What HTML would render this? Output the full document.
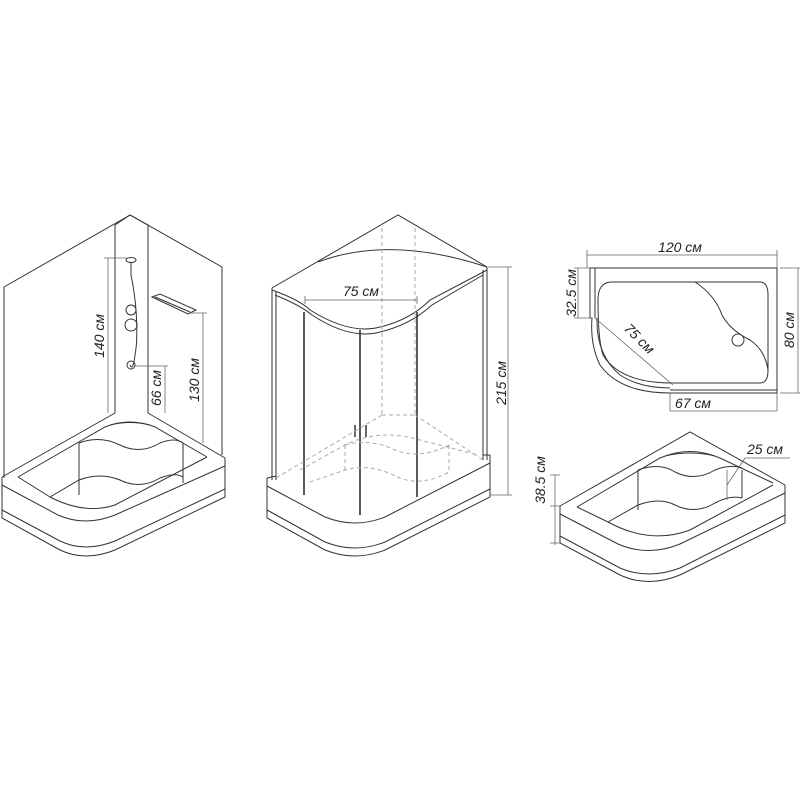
<!DOCTYPE html>
<html><head><meta charset="utf-8"><style>
html,body{margin:0;padding:0;background:#fff;}
svg{display:block}
text{font-family:"Liberation Sans",sans-serif;font-style:italic;font-size:14px;fill:#222;}
</style></head><body>
<svg width="800" height="800" viewBox="0 0 800 800" xmlns="http://www.w3.org/2000/svg">
<g fill="none" stroke="#333" stroke-width="1">
<!-- LEFT FIGURE -->
<path d="M4,478 V287 L130,215 L222,267 V455"/>
<path d="M115,413 V225 L130,215 L148,225 V413"/>
<path d="M2,477 L115,413 M148,413 L225,458"/>
<path d="M2,477 V518 L60,550 Q85,562 115,550 L225,497 V458"/>
<path d="M2,485 L58,515 Q85,527 115,515 L225,466"/>
<path d="M2,510 L60,541 Q85,553 115,541 L225,489"/>
<path d="M18,477 L105,427 Q130,417 155,427 L207,457"/>
<path d="M110,425 Q130,420 150,425"/>
<path d="M18,477 L50,497 Q85,515 115,505 L207,457"/>
<path d="M79,443 V495 M183,443 V483"/>
<path d="M79,443 Q100,435 120,445 Q140,455 160,443 Q175,437 183,443"/>
<path d="M50,497 L79,480 Q100,472 120,480 Q140,490 160,478 Q175,472 183,477"/>
<!-- shower -->
<ellipse cx="131" cy="260" rx="5" ry="2.5"/>
<path d="M131,262 V275 M131,275 Q135,295 136,310 Q138,340 135,355 Q133,372 130,365"/>
<circle cx="131" cy="310" r="5"/><circle cx="131" cy="325" r="6"/>
<circle cx="131" cy="365" r="4"/>
<path d="M152,297 L160,294 L196,310 L188,314 Z M155,297 L190,312"/>
<!-- dims -->
<path stroke="#666" stroke-width="0.8" d="M108,258 V413 M104,258 H130 M165,366 V413 M135,366 H168 M203,313 V443 M190,313 H207"/>
<!-- MIDDLE FIGURE -->
<path d="M272,288 L398,215 L487,267"/>
<path d="M318,262 Q390,235 487,267"/>
<path d="M272,290 Q300,300 310,310 Q350,335 380,327 Q410,320 430,300 L487,270"/>
<path d="M275,295 Q300,305 312,315 Q350,340 380,332 Q410,325 432,305 L483,275"/>
<path d="M272,288 V480 M276,292 V480 M483,270 V460 M487,267 V460"/>
<path stroke-width="1.6" d="M304,312 V495 M360,330 V515 M417,312 V497"/>
<path stroke-width="1.5" d="M355,425 V437 M366,425 V437"/>
<g stroke="#aaa" stroke-dasharray="4,3">
<path d="M382,228 V415 M415,228 V415 M382,415 L415,415 M382,415 L276,478 M415,415 L483,460"/>
<path d="M300,470 L345,445 Q380,428 420,440 L478,455"/>
<path d="M345,445 V470 M449,445 V470"/>
<path d="M345,445 Q370,438 395,450 Q420,460 449,445"/>
<path d="M310,482 L345,470 Q370,463 395,476 Q420,488 449,472"/>
</g>
<path d="M267,478 L276,476 M483,455 L490,455"/>
<path d="M267,478 V518 L325,550 Q355,562 385,550 L490,497 V455"/>
<path d="M267,486 L325,517 Q355,529 385,517 L490,463"/>
<path d="M267,510 L325,542 Q355,554 385,542 L490,489"/>
<path stroke="#666" stroke-width="0.8" d="M305,300 H417 M305,296 V304 M417,296 V304 M508,267 V495 M488,267 H512 M490,495 H512"/>
<!-- RIGHT TOP PLAN -->
<path d="M590,268 H777 V393 H670 Q620,393 600,365 Q590,345 592,318 L590,318 Z"/>
<path d="M595,268 V318 M597,318 Q596,355 620,375 Q640,388 670,388 M670,390 H777"/>
<path d="M612,282 H760 Q768,282 768,295 V370 Q768,383 760,383 H672 Q620,383 603,355 Q598,340 598,300 Q598,282 612,282 Z"/>
<path d="M695,282 Q715,295 722,315 Q730,330 750,340 Q765,350 768,370"/>
<circle cx="738" cy="340" r="6"/>
<path stroke="#666" stroke-width="0.8" d="M587,255 H777 M587,250 V268 M777,250 V268 M578,268 V318 M574,268 H590 M574,318 H592 M798,268 V393 M780,268 H800 M780,393 H800 M670,411 V393 M777,411 V393 M670,411 H777 M595,318 L673,385"/>
<!-- RIGHT BOTTOM TRAY -->
<path d="M560,506 L690,432 L785,485"/>
<path d="M560,506 V543 L620,575 Q648,588 680,575 L785,523 V485"/>
<path d="M560,514 L618,544 Q648,557 680,544 L785,493"/>
<path d="M560,536 L620,568 Q648,580 680,568 L785,515"/>
<path d="M577,507 L660,458 Q690,445 720,458 L773,483"/>
<path d="M665,456 Q690,450 715,456"/>
<path d="M577,507 L608,522 Q650,545 690,530 L773,485"/>
<path d="M638,470 V510 M742,470 V498"/>
<path d="M638,470 Q660,462 675,472 Q695,482 715,470 Q730,464 742,468"/>
<path d="M608,522 L638,505 Q660,497 675,505 Q695,515 715,503 Q730,495 742,498"/>
<path stroke="#666" stroke-width="0.8" d="M727,470 V500 M727,485 L745,458 H790 M555,475 V545 M550,506 H560 M550,543 H560 M550,475 H560"/>
</g>
<text transform="translate(104,336) rotate(-90)" text-anchor="middle">140 см</text>
<text transform="translate(161,388) rotate(-90)" text-anchor="middle">66 см</text>
<text transform="translate(199,380) rotate(-90)" text-anchor="middle">130 см</text>
<text x="361" y="296" text-anchor="middle">75 см</text>
<text transform="translate(506,383) rotate(-90)" text-anchor="middle">215 см</text>
<text x="680" y="252" text-anchor="middle">120 см</text>
<text transform="translate(576,293) rotate(-90)" text-anchor="middle">32.5 см</text>
<text transform="translate(794,330) rotate(-90)" text-anchor="middle">80 см</text>
<text x="693" y="408" text-anchor="middle">67 см</text>
<text transform="translate(636,342) rotate(45)" text-anchor="middle">75 см</text>
<text x="765" y="454" text-anchor="middle">25 см</text>
<text transform="translate(545,480) rotate(-90)" text-anchor="middle">38.5 см</text>
</svg>
</body></html>
